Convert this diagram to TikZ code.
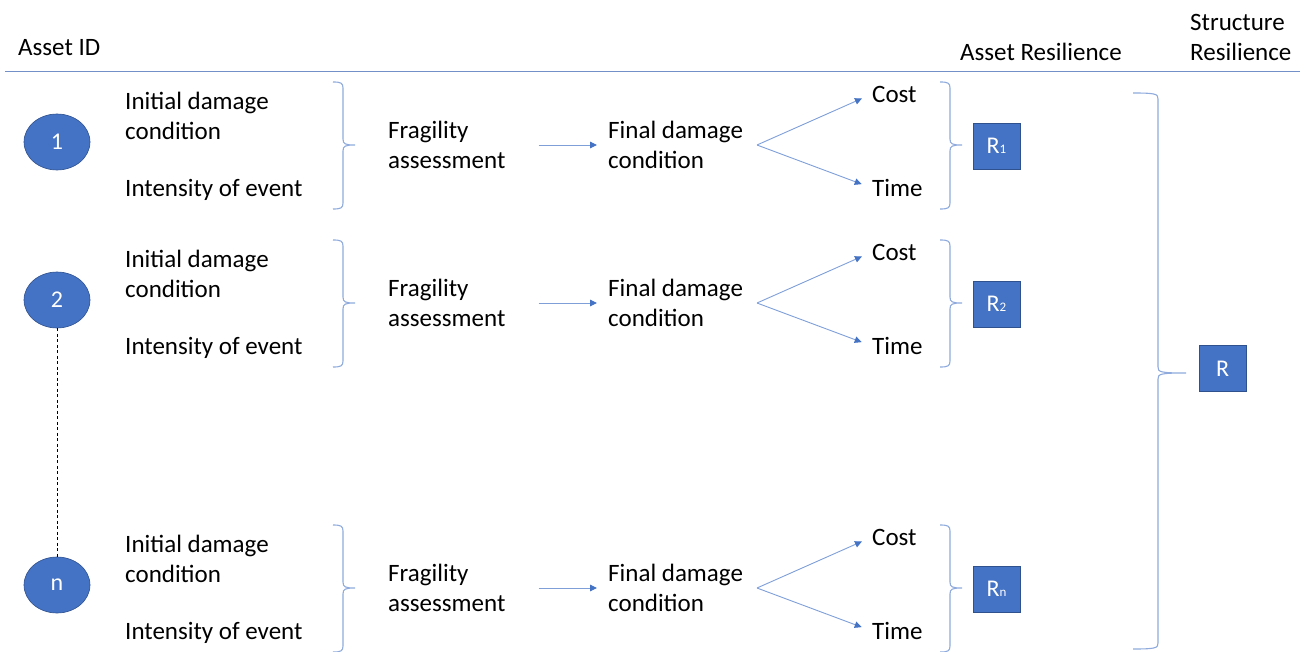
\documentclass[tikz,border=0pt]{standalone}
\usepackage{fontspec}
\setmainfont{Carlito}
\usetikzlibrary{arrows.meta,shapes.geometric}
\definecolor{accent}{HTML}{4472C4}
\definecolor{accentdark}{HTML}{2F528F}
\definecolor{bracecol}{HTML}{8FAADC}
\definecolor{rulecol}{HTML}{7391C8}
\definecolor{linkcol}{HTML}{7F9FD8}

% right-facing curly brace: spine x, top y, bottom y, middle y, tip x, hook length
\newcommand{\bracepath}[6]{%
  \draw[brace] (#1-#6,#2) .. controls (#1-2,#2) and (#1,#2+1) .. (#1,#2+6)
    -- (#1,#4-6) .. controls (#1,#4-1) and (#1+2,#4) .. (#5,#4)
    .. controls (#1+2,#4) and (#1,#4+1) .. (#1,#4+6)
    -- (#1,#3-6) .. controls (#1,#3-1) and (#1-2,#3) .. (#1-#6,#3);}

\begin{document}
\begin{tikzpicture}[x=1pt,y=-1pt,
  txt/.style={inner sep=0pt, anchor=west, align=left, font=\fontsize{25}{30}\selectfont},
  idnode/.style={ellipse, fill=accent, draw=accentdark, line width=0.6pt,
    minimum width=66pt, minimum height=56pt, inner sep=0pt, text=white,
    font=\fontsize{24}{24}\selectfont},
  rbox/.style={rectangle, fill=accent, draw=accentdark, line width=0.8pt,
    minimum width=47pt, minimum height=46pt, inner sep=0pt, text=white,
    font=\fontsize{24}{24}\selectfont},
  brace/.style={draw=bracecol, line width=1.1pt, line join=miter},
  link/.style={draw=linkcol, line width=0.9pt,
    -{Triangle[length=7pt,width=6.5pt,color=accent]}}
]
\useasboundingbox (0,0) rectangle (1306,652);

% column headings and rule
\node[txt] (hid) at (18,48) {Asset ID};
\node[txt] (hasset) at (960,52) {Asset Resilience};
\node[txt] (hstruct) at (1190,37) {Structure\\Resilience};
\draw[rulecol, line width=1pt] (5,72) -- (1300,72);

% one row per asset
\foreach \id/\dy in {1/0, 2/158, n/443}{
  \node[idnode] (id\id) at (57,142+\dy) {\id};
  \node[txt] (init\id) at (125,116+\dy) {Initial damage\\condition};
  \node[txt] (int\id) at (125,190+\dy) {Intensity of event};
  \bracepath{343}{82+\dy}{209+\dy}{145+\dy}{355}{10}
  \node[txt] (frag\id) at (388,145+\dy) {Fragility\\assessment};
  \node[txt] (final\id) at (608,145+\dy) {Final damage\\condition};
  \coordinate (fork\id) at (757,145+\dy);
  \node[txt] (cost\id) at (872,94+\dy) {Cost};
  \node[txt] (time\id) at (872,188+\dy) {Time};
  \bracepath{950}{82+\dy}{209+\dy}{145+\dy}{962}{10}
  \node[rbox] (r\id) at (996.5,146+\dy) {R{\fontsize{13}{13}\selectfont\id}};
  \draw[link, shorten <=33pt, shorten >=11pt] (frag\id.east) -- (final\id.west);
  \draw[link, shorten >=11pt] (fork\id) -- (cost\id.west);
  \draw[link, shorten >=11pt] (fork\id) -- (time\id.west);
}

% gap between asset 2 and asset n
\draw[dashed, dash pattern=on 3pt off 2.5pt, line width=0.9pt] (id2.south) -- (idn.north);

% overall structure resilience
\bracepath{1158}{93}{649}{373}{1186}{25}
\node[rbox] (rall) at (1222.5,368.5) {R};
\end{tikzpicture}
\end{document}
